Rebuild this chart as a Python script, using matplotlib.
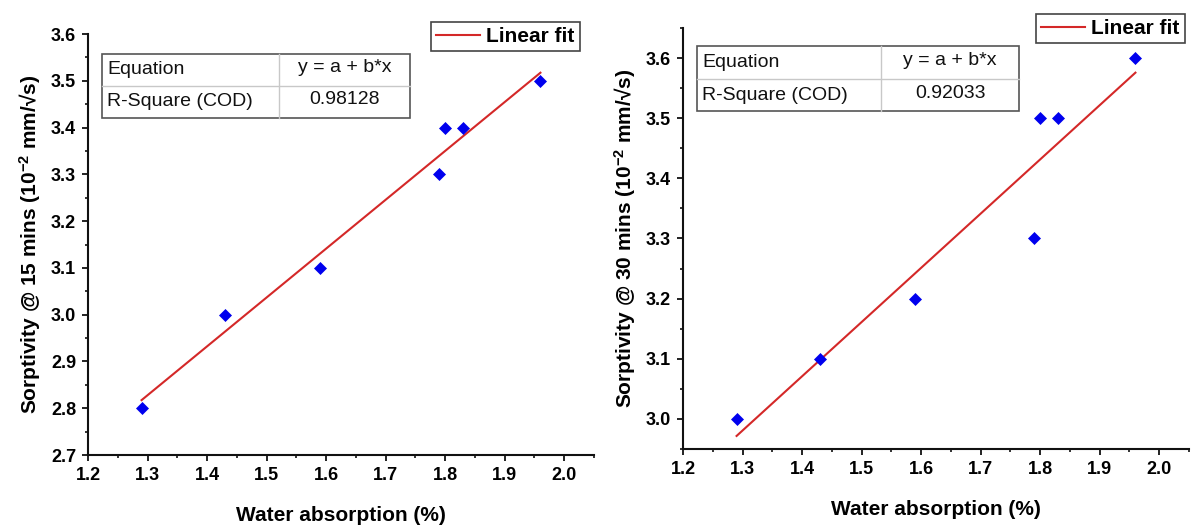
import numpy as np
import matplotlib.pyplot as plt
from matplotlib.patches import Rectangle
from matplotlib.lines import Line2D
from matplotlib.ticker import MultipleLocator

plt.rcParams['font.family'] = ['Liberation Sans', 'DejaVu Sans']
plt.rcParams['mathtext.default'] = 'regular'

W, H = 1192, 527

# data
water_abs = [1.29, 1.43, 1.59, 1.79, 1.80, 1.83, 1.96]
sorp_15 = [2.80, 3.00, 3.10, 3.30, 3.40, 3.40, 3.50]
sorp_30 = [3.00, 3.10, 3.20, 3.30, 3.50, 3.50, 3.60]
r2_15 = '0.98128'
r2_30 = '0.92033'
eq_text = 'y = a + b*x'

xticks = [1.2, 1.3, 1.4, 1.5, 1.6, 1.7, 1.8, 1.9, 2.0]
yticks_15 = [2.7, 2.8, 2.9, 3.0, 3.1, 3.2, 3.3, 3.4, 3.5, 3.6]
yticks_30 = [3.0, 3.1, 3.2, 3.3, 3.4, 3.5, 3.6]

fig = plt.figure(figsize=(W / 100, H / 100), dpi=100)


def px_axes(x0, y0, x1, y1):
    # pixel box (top-left origin) -> axes
    return fig.add_axes([x0 / W, 1 - y1 / H, (x1 - x0) / W, (y1 - y0) / H])


def draw_table(x0, xs, x1, y0, ys, y1, r2):
    tr = fig.transFigure
    fx = lambda v: v / W
    fy = lambda v: 1 - v / H
    fig.add_artist(Line2D([fx(xs), fx(xs)], [fy(y0), fy(y1)], transform=tr, color='#c8c8c8', lw=1))
    fig.add_artist(Line2D([fx(x0), fx(x1)], [fy(ys), fy(ys)], transform=tr, color='#c8c8c8', lw=1))
    fig.add_artist(Rectangle((fx(x0), fy(y1)), fx(x1) - fx(x0), fy(y0) - fy(y1), transform=tr,
                             fill=False, edgecolor='#555555', lw=1.2))
    r1 = (y0 + ys) / 2
    r2y = (ys + y1) / 2
    fig.text(fx(x0 + 5), fy(r1), 'Equation', fontsize=14, va='center', ha='left', color='#111111')
    fig.text(fx(x0 + 5), fy(r2y), 'R-Square (COD)', fontsize=14, va='center', ha='left', color='#111111')
    fig.text(fx((xs + x1) / 2), fy(r1 - 2), eq_text, fontsize=14, va='center', ha='center', color='#111111')
    fig.text(fx((xs + x1) / 2), fy(r2y - 2), r2, fontsize=14, va='center', ha='center', color='#111111')


def style_axes(ax, xlim, ylim, yticks):
    ax.set_xlim(*xlim)
    ax.set_ylim(*ylim)
    ax.set_xticks(xticks)
    ax.set_yticks(yticks)
    ax.xaxis.set_minor_locator(MultipleLocator(0.05))
    ax.yaxis.set_minor_locator(MultipleLocator(0.05))
    ax.set_xticklabels(['%.1f' % v for v in xticks], fontweight='bold', fontsize=13)
    ax.set_yticklabels(['%.1f' % v for v in yticks], fontweight='bold', fontsize=13)
    for side in ['top', 'right']:
        ax.spines[side].set_visible(False)
    for side in ['left', 'bottom']:
        ax.spines[side].set_linewidth(1.5)
        ax.spines[side].set_color('#111111')
    ax.tick_params(which='major', direction='out', length=4.5, width=1.3, pad=4, color='#111111')
    ax.tick_params(which='minor', direction='out', length=2.5, width=1.2, color='#111111')
    ax.set_xlabel('Water absorption (%)', fontsize=15, fontweight='bold', labelpad=16)


panels = [
    (px_axes(88, 34, 594, 455), sorp_15, (2.7, 3.6), yticks_15, '15', r2_15,
     (102, 279, 410, 54, 86, 118), (580, 22)),
    (px_axes(683, 28, 1189, 449), sorp_30, (2.95, 3.65), yticks_30, '30', r2_30,
     (697, 881, 1019, 46, 79, 111), (1185, 14)),
]

for ax, yvals, ylim, yt, mins, r2, tbl, leg in panels:
    style_axes(ax, (1.2, 2.05), ylim, yt)
    b, a = np.polyfit(water_abs, yvals, 1)
    xf = np.array([min(water_abs), max(water_abs)])
    ax.plot(water_abs, yvals, linestyle='none', marker='D', markersize=6.5,
            color='#0000ee', markeredgewidth=0.5, zorder=3)
    ax.plot(xf, a + b * xf, color='#d42828', lw=1.5, label='Linear fit', zorder=2)
    ax.set_ylabel('Sorptivity @ ' + mins + ' mins (10$^{-2}$ mm/\u221as)', fontsize=15,
                  fontweight='bold', labelpad=6)
    lg = ax.legend(loc='upper right', bbox_to_anchor=(leg[0] / W, 1 - leg[1] / H),
                   bbox_transform=fig.transFigure, borderaxespad=0, fancybox=False,
                   edgecolor='#444444', framealpha=1, handlelength=2.1, handletextpad=0.3,
                   borderpad=0.25, prop={'weight': 'bold', 'size': 15})
    lg.get_frame().set_linewidth(1.2)
    draw_table(*tbl, r2)

fig.savefig('out.png', dpi=100)
